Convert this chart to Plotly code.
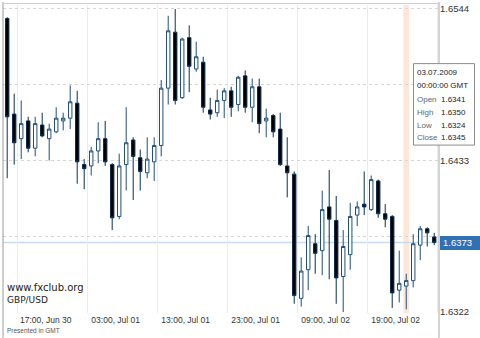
import plotly.graph_objects as go
import pandas as pd

# ---------------- data ----------------
times = pd.date_range("2009-06-30 15:00", periods=62, freq="h")

opens = [1.6537, 1.6467, 1.6449, 1.6462, 1.6442, 1.6459, 1.6449, 1.6454, 1.6462, 1.6464,
         1.6475, 1.6430, 1.6429, 1.6440, 1.6449, 1.6430, 1.6392, 1.6430, 1.6448, 1.6435,
         1.6424, 1.6432, 1.6444, 1.6486, 1.6527, 1.6479, 1.6523, 1.6500, 1.6505, 1.6470,
         1.6468, 1.6477, 1.6484, 1.6474, 1.6495, 1.6472, 1.6487, 1.6462, 1.6466, 1.6456,
         1.6429, 1.6423, 1.6332, 1.6353, 1.6372, 1.6367, 1.6399, 1.6389, 1.6348, 1.6364,
         1.6393, 1.6401, 1.6397, 1.6418, 1.6394, 1.6392, 1.6338, 1.6341, 1.6345, 1.6371,
         1.6383, 1.6377]
highs = [1.6538, 1.6482, 1.6477, 1.6465, 1.6465, 1.6468, 1.6460, 1.6472, 1.6468, 1.6488,
         1.6484, 1.6434, 1.6443, 1.6461, 1.6462, 1.6431, 1.6438, 1.6472, 1.6450, 1.6441,
         1.6450, 1.6450, 1.6492, 1.6539, 1.6544, 1.6523, 1.6532, 1.6520, 1.6509, 1.6479,
         1.6485, 1.6486, 1.6487, 1.6495, 1.6499, 1.6493, 1.6493, 1.6471, 1.6467, 1.6468,
         1.6450, 1.6425, 1.6362, 1.6385, 1.6379, 1.6411, 1.6426, 1.6407, 1.6382, 1.6402,
         1.6403, 1.6425, 1.6422, 1.6419, 1.6401, 1.6393, 1.6367, 1.6350, 1.6379, 1.6385,
         1.6384, 1.6380]
lows = [1.6420, 1.6430, 1.6434, 1.6439, 1.6436, 1.6450, 1.6433, 1.6453, 1.6455, 1.6456,
        1.6416, 1.6412, 1.6422, 1.6431, 1.6429, 1.6382, 1.6390, 1.6411, 1.6404, 1.6411,
        1.6420, 1.6418, 1.6436, 1.6474, 1.6474, 1.6478, 1.6483, 1.6498, 1.6468, 1.6463,
        1.6465, 1.6464, 1.6465, 1.6469, 1.6468, 1.6461, 1.6453, 1.6450, 1.6450, 1.6429,
        1.6406, 1.6328, 1.6326, 1.6338, 1.6350, 1.6349, 1.6346, 1.6328, 1.6322, 1.6353,
        1.6385, 1.6393, 1.6396, 1.6391, 1.6384, 1.6325, 1.6329, 1.6324, 1.6340, 1.6360,
        1.6370, 1.6371]
closes = [1.6465, 1.6446, 1.6460, 1.6442, 1.6460, 1.6451, 1.6456, 1.6464, 1.6464, 1.6476,
          1.6432, 1.6427, 1.6440, 1.6449, 1.6432, 1.6391, 1.6429, 1.6446, 1.6436, 1.6425,
          1.6434, 1.6444, 1.6486, 1.6528, 1.6477, 1.6522, 1.6502, 1.6509, 1.6472, 1.6467,
          1.6477, 1.6484, 1.6472, 1.6494, 1.6472, 1.6487, 1.6460, 1.6464, 1.6454, 1.6430,
          1.6424, 1.6334, 1.6352, 1.6378, 1.6365, 1.6397, 1.6390, 1.6347, 1.6370, 1.6392,
          1.6399, 1.6399, 1.6419, 1.6394, 1.6390, 1.6336, 1.6343, 1.6345, 1.6372, 1.6383,
          1.6380, 1.6373]

grid_prices = [1.6322, 1.63775, 1.6433, 1.64885, 1.6544]
grid_labels = ["1.6322", "", "1.6433", "", "1.6544"]
last_price = closes[-1]
sel = 57  # highlighted candle (tooltip)

# ---------------- layout helpers (pixels -> paper) ----------------
L, R, T, B = 3, 439, 3, 313
def pxx(px):
    return (px - L) / (R - L)
def pxy(py):
    return (B - py) / (B - T)

FONT = "Liberation Sans"

fig = go.Figure()
fig.add_trace(go.Candlestick(
    x=times, open=opens, high=highs, low=lows, close=closes,
    xperiod=3600000, xperiodalignment="middle",
    increasing=dict(line=dict(color="#1f4f7e", width=1), fillcolor="#ffffff"),
    decreasing=dict(line=dict(color="#0b2f52", width=1), fillcolor="#000000"),
    whiskerwidth=0, hoverinfo="skip", showlegend=False,
))

shapes = []
# highlighted candle band
t_sel = times[sel]
shapes.append(dict(type="rect", xref="x", yref="paper",
                   x0=t_sel + pd.Timedelta(minutes=6), x1=t_sel + pd.Timedelta(minutes=54),
                   y0=0, y1=1, fillcolor="#fde6d8", line=dict(width=0), layer="below"))
# current price line
shapes.append(dict(type="line", xref="paper", yref="y", x0=0, x1=1,
                   y0=last_price, y1=last_price, line=dict(color="#c9dcef", width=1.5),
                   layer="below"))
# frame
shapes.append(dict(type="line", xref="paper", yref="paper", x0=pxx(3), x1=pxx(3),
                   y0=pxy(338), y1=pxy(0), line=dict(color="#9a9a9a", width=1)))
shapes.append(dict(type="line", xref="paper", yref="paper", x0=pxx(439), x1=pxx(439),
                   y0=pxy(338), y1=pxy(0), line=dict(color="#a8a8a8", width=1)))
shapes.append(dict(type="line", xref="paper", yref="paper", x0=pxx(3), x1=pxx(439),
                   y0=pxy(1.5), y1=pxy(1.5), line=dict(color="#d0d0d0", width=1)))
# price label box
shapes.append(dict(type="rect", xref="paper", yref="paper", x0=pxx(440), x1=pxx(481),
                   y0=pxy(249.5), y1=pxy(235.5), fillcolor="#3270b6", line=dict(width=0)))
# tooltip box
shapes.append(dict(type="rect", xref="paper", yref="paper", x0=pxx(413.5), x1=pxx(474.5),
                   y0=pxy(144), y1=pxy(62), fillcolor="#ffffff",
                   line=dict(color="#8c8c8c", width=1), layer="above"))

ann = []
def txt(px, py, s, size, color, family=FONT, xanchor="left"):
    ann.append(dict(xref="paper", yref="paper", x=pxx(px), y=pxy(py), text=s,
                    showarrow=False, xanchor=xanchor, yanchor="middle",
                    font=dict(family=family, size=size, color=color), borderpad=0))

txt(441.5, 242.5, f"{last_price:.4f}", 9.5, "#ffffff")

sel_t = times[sel]
txt(415.5, 70.7, sel_t.strftime("%d.%m.%Y"), 8, "#222222")
txt(415.5, 84, sel_t.strftime("%H:%M:%S") + " GMT", 8, "#222222")
rows = [("Open", opens[sel]), ("High", highs[sel]), ("Low", lows[sel]), ("Close", closes[sel])]
for k, (lab, v) in enumerate(rows):
    yy = 98.3 + k * 12.8
    txt(415.5, yy, lab, 8, "#666666")
    txt(440.5, yy, f"{v:.4f}", 8, "#222222")

txt(6, 287.5, "www.fxclub.org", 10, "#222222", family="DejaVu Sans")
txt(6, 300, "GBP/USD", 9, "#222222", family="DejaVu Sans")
txt(6, 331, "Presented in GMT", 6.5, "#555555")

fig.update_layout(
    width=480, height=338,
    margin=dict(l=L, r=480 - R, t=T, b=338 - B),
    paper_bgcolor="#ffffff", plot_bgcolor="#ffffff",
    showlegend=False, hovermode=False,
    boxgap=0.3,
    shapes=shapes, annotations=ann,
    xaxis=dict(
        type="date",
        range=["2009-06-30 14:54", "2009-07-03 05:11"],
        tick0="2009-06-30 17:00", dtick=36000000,
        tickformat="%H:%M, %b %d",
        showgrid=True, gridcolor="#ececec", gridwidth=1,
        zeroline=False, showline=False, ticks="",
        ticklabelshift=28,
        tickfont=dict(family=FONT, size=8.5, color="#333333"),
        rangeslider=dict(visible=False), fixedrange=True,
    ),
    yaxis=dict(
        side="right",
        range=[1.632127, 1.654691],
        tickmode="array", tickvals=grid_prices, ticktext=grid_labels,
        showgrid=True, gridcolor="#d6d6d6", griddash="3px,3px", gridwidth=1,
        zeroline=False, showline=False, ticks="",
        tickfont=dict(family=FONT, size=9.5, color="#333333"),
        fixedrange=True,
    ),
)

fig.write_html("out.html")
